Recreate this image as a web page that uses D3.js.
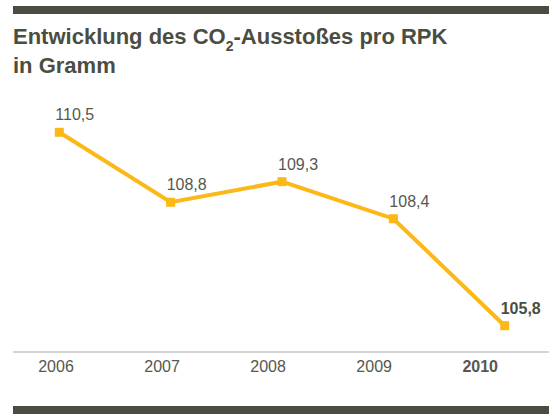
<!DOCTYPE html>
<html>
<head>
<meta charset="utf-8">
<script src="https://cdn.jsdelivr.net/npm/d3@7"></script>
<style>
	body { margin: 0; background: #fff; }
	svg { display: block; font-family: "Liberation Sans", Arial, sans-serif; }
</style>
</head>
<body>
<div class="chart"></div>
<script>
var years = ["2006", "2007", "2008", "2009", "2010"];
var values = [110.5, 108.8, 109.3, 108.4, 105.8];
var valueLabels = ["110,5", "108,8", "109,3", "108,4", "105,8"];

var width = 549,
	height = 414;

var svg = d3.select('.chart')
	.append('svg')
	.attr('width', width)
	.attr('height', height);

var dark = "#4a4e42";
var yellow = "#fbb817";
var textGrey = "#56574f";

//bars top and bottom
svg.append('rect')
	.attr('x', 13).attr('y', 6)
	.attr('width', width - 13).attr('height', 8)
	.attr('fill', dark);

svg.append('rect')
	.attr('x', 13).attr('y', 406)
	.attr('width', width - 13).attr('height', 8)
	.attr('fill', dark);

//title
var title = svg.append('text')
	.attr('x', 13)
	.attr('y', 43.5)
	.attr('fill', dark)
	.style('font-size', '22px')
	.style('font-weight', 'bold');
title.append('tspan').text('Entwicklung des CO');
title.append('tspan').text('2').style('font-size', '14px').attr('dy', 7);
title.append('tspan').text('-Ausstoßes pro RPK').attr('dy', -7);

svg.append('text')
	.attr('x', 13)
	.attr('y', 73)
	.attr('fill', dark)
	.style('font-size', '22px')
	.style('font-weight', 'bold')
	.text('in Gramm');

//scales
var xScale = d3.scalePoint()
	.domain(years)
	.range([59.3, 504.7]);

var yScale = d3.scaleLinear()
	.domain([105.8, 110.5])
	.range([325.7, 132.3]);

var xLabelScale = d3.scalePoint()
	.domain(years)
	.range([55.5, 479.7]);

//axis
var axisY = 352;
svg.append('line')
	.attr('x1', 13).attr('x2', width)
	.attr('y1', axisY).attr('y2', axisY)
	.attr('stroke', '#d4d4d4')
	.attr('stroke-width', 2);

var xAxis = d3.axisBottom()
	.scale(xLabelScale)
	.tickSize(0)
	.tickPadding(0);

var gx = svg.append('g')
	.attr('class', 'x axis')
	.attr('transform', 'translate(0,' + (axisY + 9) + ')')
	.call(xAxis);
gx.select('.domain').remove();
gx.selectAll('text')
	.attr('fill', textGrey)
	.style('font-family', '"Liberation Sans", Arial, sans-serif')
	.style('font-size', '16px')
	.style('font-weight', function (d, i) { return i === years.length - 1 ? 'bold' : 'normal'; });

//line
var line = d3.line()
	.x(function (d, i) { return xScale(years[i]); })
	.y(function (d) { return yScale(d); });

svg.append('path')
	.datum(values)
	.attr('d', line)
	.attr('fill', 'none')
	.attr('stroke', yellow)
	.attr('stroke-width', 4);

svg.selectAll('.marker')
	.data(values)
	.enter().append('rect')
	.attr('class', 'marker')
	.attr('x', function (d, i) { return xScale(years[i]) - 4.5; })
	.attr('y', function (d) { return yScale(d) - 4.5; })
	.attr('width', 9)
	.attr('height', 9)
	.attr('fill', yellow);

svg.selectAll('.valueLabel')
	.data(values)
	.enter().append('text')
	.attr('class', 'valueLabel')
	.attr('x', function (d, i) { return xScale(years[i]) - 4; })
	.attr('y', function (d) { return yScale(d) - 12; })
	.attr('fill', function (d, i) { return i === values.length - 1 ? dark : textGrey; })
	.style('font-size', '16px')
	.style('font-weight', function (d, i) { return i === values.length - 1 ? 'bold' : 'normal'; })
	.text(function (d, i) { return valueLabels[i]; });
</script>
</body>
</html>
